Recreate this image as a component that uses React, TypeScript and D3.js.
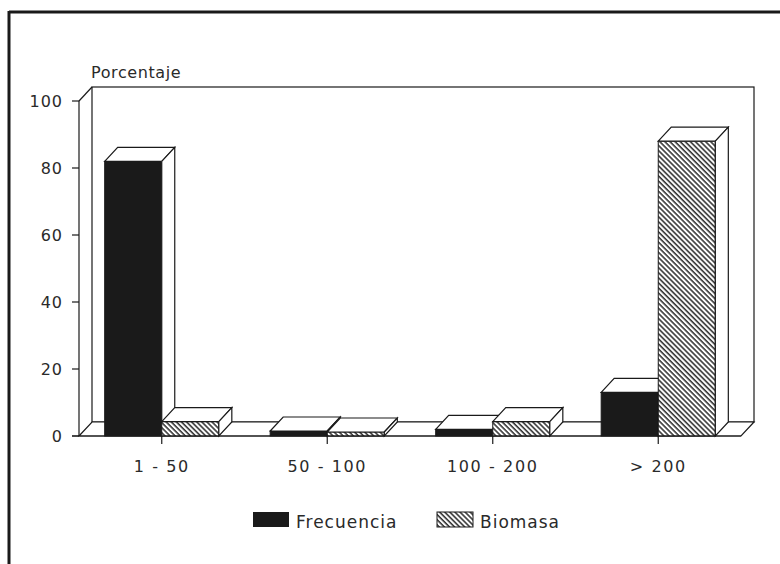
import React from "react";
import * as d3 from "d3";

const categories = ["1 - 50", "50 - 100", "100 - 200", "> 200"];
const seriesNames = ["Frecuencia", "Biomasa"];
const frecuencia = [82, 1.5, 2, 13];
const biomasa = [4.3, 1.2, 4.3, 88];
const yTicks = [0, 20, 40, 60, 80, 100];
const yTitle = "Porcentaje";

const W = 780;
const H = 564;
const left = 79;
const right = 741;
const base = 436;
const top = 101;
const DX = 13;
const DY = -14;
const FONT = "'DejaVu Sans', Verdana, sans-serif";
const INK = "#1a1a1a";
const TXT = "#2a2a2a";

export default function App() {
  const x0 = d3.scaleBand<string>().domain(categories).range([left, right]).paddingInner(0).paddingOuter(0);
  const x1 = d3.scaleBand<string>().domain(seriesNames).range([0, x0.bandwidth()]).paddingInner(0).paddingOuter(0.45);
  const y = d3.scaleLinear().domain([0, 100]).range([base, top]);

  const values = [frecuencia, biomasa];
  const fills = [INK, "url(#hatch)"];

  const bars: { x: number; w: number; yTop: number; fill: string; key: string }[] = [];
  categories.forEach((c, ci) => {
    seriesNames.forEach((s, si) => {
      bars.push({
        x: (x0(c) as number) + (x1(s) as number),
        w: x1.bandwidth(),
        yTop: y(values[si][ci]),
        fill: fills[si],
        key: c + s,
      });
    });
  });

  const poly = (pts: [number, number][]) => pts.map((p) => p.join(",")).join(" ");

  return (
    <svg width={W} height={H} style={{ position: "absolute", left: 0, top: 0, background: "#fff" }}>
      <defs>
        <pattern id="hatch" patternUnits="userSpaceOnUse" width={3.6} height={3.6} patternTransform="rotate(45)">
          <rect width={3.6} height={3.6} fill="#fff" />
          <line x1={0} y1={0.8} x2={3.6} y2={0.8} stroke={INK} strokeWidth={1.4} />
        </pattern>
      </defs>

      {/* outer frame */}
      <line x1={9} y1={12} x2={W} y2={12} stroke={INK} strokeWidth={3} />
      <line x1={9} y1={11} x2={9} y2={H} stroke={INK} strokeWidth={3} />

      {/* back wall */}
      <rect x={left + DX} y={top + DY} width={right - left} height={base - top} fill="#fff" stroke={INK} strokeWidth={1.2} />
      {/* floor */}
      <polygon
        points={poly([[left, base], [left + DX, base + DY], [right + DX, base + DY], [right, base]])}
        fill="#fff"
        stroke={INK}
        strokeWidth={1.2}
      />
      {/* left side wall */}
      <line x1={left} y1={top} x2={left + DX} y2={top + DY} stroke={INK} strokeWidth={1.2} />
      <line x1={left} y1={top} x2={left} y2={base} stroke={INK} strokeWidth={1.2} />

      {/* y ticks */}
      {yTicks.map((t) => (
        <g key={t}>
          <line x1={left - 7} x2={left} y1={y(t)} y2={y(t)} stroke={INK} strokeWidth={1.2} />
          <text x={63} y={y(t) + 6} textAnchor="end" fontFamily={FONT} fontSize={16} fill={TXT} letterSpacing={1}>
            {t}
          </text>
        </g>
      ))}
      <text x={91} y={78} fontFamily={FONT} fontSize={16} fill={TXT} letterSpacing={0.6}>
        {yTitle}
      </text>

      {/* bars */}
      {bars.map((b) => (
        <g key={b.key}>
          <rect x={b.x} y={b.yTop} width={b.w} height={base - b.yTop} fill={b.fill} stroke={INK} strokeWidth={1} />
          <polygon
            points={poly([[b.x, b.yTop], [b.x + DX, b.yTop + DY], [b.x + b.w + DX, b.yTop + DY], [b.x + b.w, b.yTop]])}
            fill="#fff"
            stroke={INK}
            strokeWidth={1.2}
          />
          <polygon
            points={poly([[b.x + b.w, b.yTop], [b.x + b.w + DX, b.yTop + DY], [b.x + b.w + DX, base + DY], [b.x + b.w, base]])}
            fill="#fff"
            stroke={INK}
            strokeWidth={1.2}
          />
        </g>
      ))}

      {/* front baseline */}
      <line x1={left - 7} x2={right} y1={base} y2={base} stroke={INK} strokeWidth={1.2} />

      {/* category ticks & labels */}
      {categories.map((c) => {
        const cx = (x0(c) as number) + x0.bandwidth() / 2;
        return (
          <g key={c}>
            <line x1={cx} x2={cx} y1={base} y2={base + 8} stroke={INK} strokeWidth={1.2} />
            <text x={cx} y={472} textAnchor="middle" fontFamily={FONT} fontSize={16} fill={TXT} letterSpacing={1.6}>
              {c}
            </text>
          </g>
        );
      })}

      {/* legend */}
      <rect x={253} y={512} width={36} height={15} fill={INK} />
      <text x={296} y={528} fontFamily={FONT} fontSize={17} fill={TXT} letterSpacing={1}>
        {seriesNames[0]}
      </text>
      <rect x={437} y={512} width={36} height={15} fill="url(#hatch)" stroke={INK} strokeWidth={1} />
      <text x={480} y={528} fontFamily={FONT} fontSize={17} fill={TXT} letterSpacing={1}>
        {seriesNames[1]}
      </text>
    </svg>
  );
}
